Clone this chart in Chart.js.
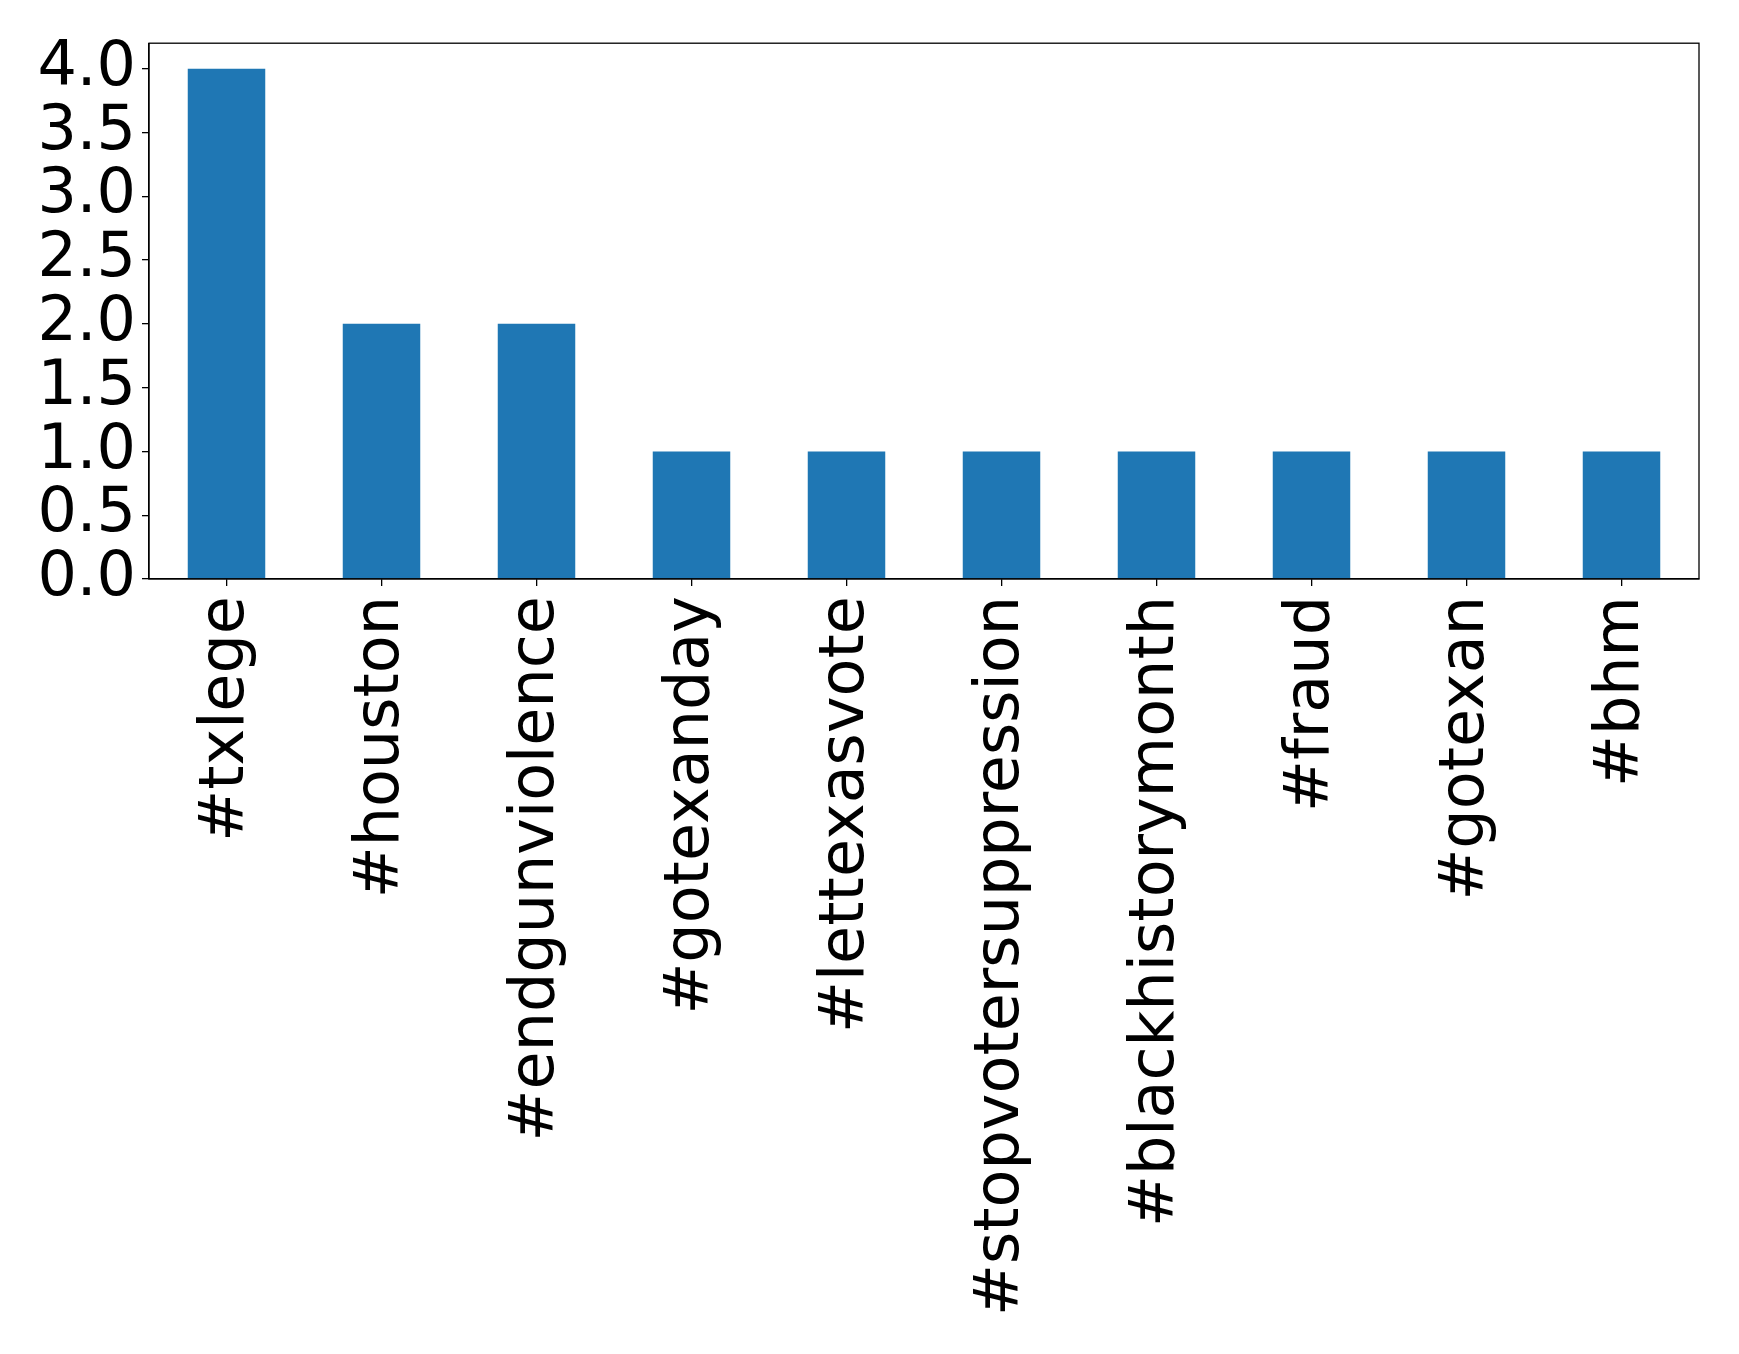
<!DOCTYPE html>
<html>
<head>
<meta charset="utf-8">
<script src="https://cdn.jsdelivr.net/npm/chart.js@4/dist/chart.umd.min.js"></script>
<style>
  html, body { margin: 0; padding: 0; background: #fff; }
  #wrap { width: 1739px; height: 1354px; }
</style>
</head>
<body>
<div id="wrap"><canvas id="chart" width="1739" height="1354"></canvas></div>
<script>
// hashtag counts
const hashtags = ["#txlege", "#houston", "#endgunviolence", "#gotexanday", "#lettexasvote",
  "#stopvotersuppression", "#blackhistorymonth", "#fraud", "#gotexan", "#bhm"];
const counts = [4, 2, 2, 1, 1, 1, 1, 1, 1, 1];
const yTicks = [0, 0.5, 1.0, 1.5, 2.0, 2.5, 3.0, 3.5, 4.0];
const yMax = 4.2;

// draws the top/right spines like matplotlib
const frameBox = {
  id: "frameBox",
  afterDraw(chart) {
    const a = chart.chartArea;
    const ctx = chart.ctx;
    ctx.save();
    ctx.strokeStyle = "#000";
    ctx.lineWidth = 1.3;
    ctx.strokeRect(a.left, a.top, a.right - a.left, a.bottom - a.top);
    ctx.restore();
  }
};

Chart.defaults.color = "#000";
Chart.defaults.font.family = "'DejaVu Sans', sans-serif";

let chart = new Chart("chart", {
  type: "bar",
  data: {
    labels: hashtags,
    datasets: [{
      data: counts,
      backgroundColor: "#1f77b4",
      borderWidth: 0,
      categoryPercentage: 1.0,
      barPercentage: 0.5,
    }],
  },
  options: {
    responsive: false,
    animation: false,
    layout: { padding: { top: 40, right: 40, left: 0, bottom: 0 } },
    plugins: { legend: { display: false }, tooltip: { enabled: false } },
    scales: {
      x: {
        offset: true,
        grid: { offset: false, drawOnChartArea: false, drawTicks: true, tickLength: 7, color: "#000", lineWidth: 1.3 },
        border: { color: "#000", width: 1.3 },
        ticks: { font: { size: 62 }, maxRotation: 90, minRotation: 90, padding: 10, autoSkip: false },
        afterFit: (s) => { s.height = 1354 - 579; },
      },
      y: {
        min: 0,
        max: yMax,
        grid: { drawOnChartArea: false, drawTicks: true, tickLength: 7, color: "#000", lineWidth: 1.3 },
        border: { color: "#000", width: 1.3 },
        ticks: { font: { size: 62 }, padding: 6, autoSkip: false, callback: (v) => v.toFixed(1) },
        afterBuildTicks: (s) => { s.ticks = yTicks.map(v => ({ value: v })); },
        afterFit: (s) => { s.width = 149; },
      },
    },
  },
  plugins: [frameBox],
});
</script>
</body>
</html>
